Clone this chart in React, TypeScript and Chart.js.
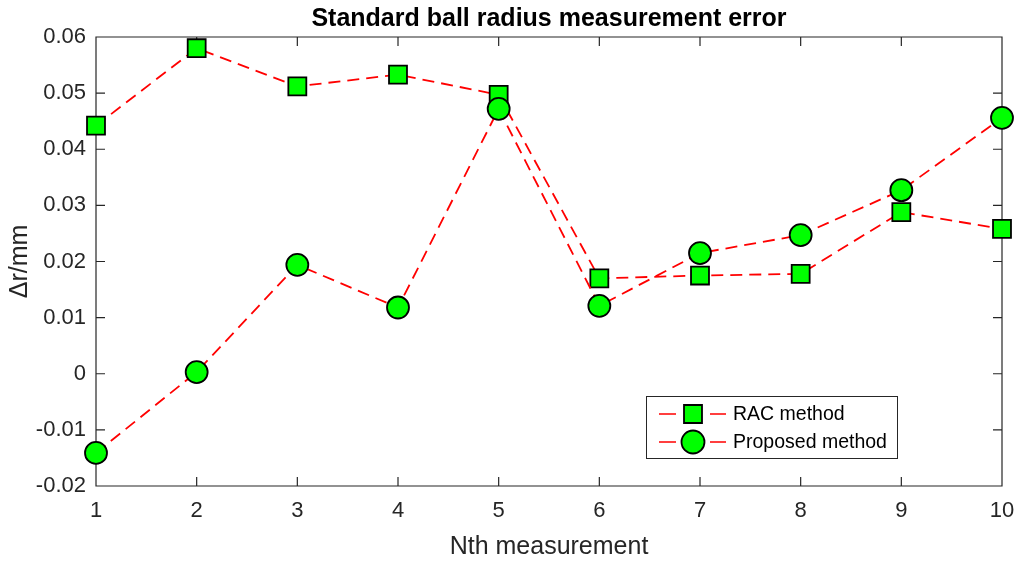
import React, { useEffect, useRef } from "react";
import { Chart, registerables } from "chart.js";

Chart.register(...registerables);

const CATEGORIES = ["1", "2", "3", "4", "5", "6", "7", "8", "9", "10"];
const RAC_VALUES = [0.0442, 0.058, 0.0512, 0.0533, 0.0497, 0.017, 0.0175, 0.0178, 0.0288, 0.0258];
const PROPOSED_VALUES = [-0.0141, 0.0003, 0.0194, 0.0118, 0.0472, 0.0121, 0.0215, 0.0247, 0.0327, 0.0456];
const Y_TICKS = [-0.02, -0.01, 0, 0.01, 0.02, 0.03, 0.04, 0.05, 0.06];
const Y_TICK_LABELS = ["-0.02", "-0.01", "0", "0.01", "0.02", "0.03", "0.04", "0.05", "0.06"];
const SERIES_LABELS = ["RAC method", "Proposed method"];
const TITLE = "Standard ball radius measurement error";
const X_TITLE = "Nth measurement";
const Y_TITLE = "\u0394r/mm";

const FONT = "'Liberation Sans', Arial, Helvetica, sans-serif";
const AXIS_COLOR = "#262626";
const MARKER_FILL = "#00ff00";
const LINE_COLOR = "#ff0000";

const boxPlugin = {
  id: "matlabBox",
  beforeDatasetsDraw(chart: any) {
    const { ctx, chartArea } = chart;
    const { left, right, top, bottom } = chartArea;
    const xs = chart.scales.x;
    const ys = chart.scales.y;
    const tl = 9;
    ctx.save();
    ctx.strokeStyle = AXIS_COLOR;
    ctx.lineWidth = 1.2;
    ctx.beginPath();
    ctx.rect(left, top, right - left, bottom - top);
    xs.ticks.forEach((_: any, i: number) => {
      const px = xs.getPixelForTick(i);
      ctx.moveTo(px, bottom);
      ctx.lineTo(px, bottom - tl);
      ctx.moveTo(px, top);
      ctx.lineTo(px, top + tl);
    });
    ys.ticks.forEach((_: any, i: number) => {
      const py = ys.getPixelForTick(i);
      ctx.moveTo(left, py);
      ctx.lineTo(left + tl, py);
      ctx.moveTo(right, py);
      ctx.lineTo(right - tl, py);
    });
    ctx.stroke();
    ctx.restore();
  },
};

const legendPlugin = {
  id: "matlabLegend",
  afterDraw(chart: any) {
    const { ctx } = chart;
    const bx = 646;
    const by = 396;
    const bw = 251;
    const bh = 62;
    ctx.save();
    ctx.fillStyle = "#ffffff";
    ctx.fillRect(bx, by, bw, bh);
    ctx.strokeStyle = "#262626";
    ctx.lineWidth = 1;
    ctx.strokeRect(bx + 0.5, by + 0.5, bw, bh);
    const rows = [by + 18, by + 46];
    chart.data.datasets.forEach((ds: any, i: number) => {
      const cy = rows[i];
      ctx.strokeStyle = LINE_COLOR;
      ctx.lineWidth = 1.6;
      ctx.setLineDash([]);
      ctx.beginPath();
      ctx.moveTo(659, cy);
      ctx.lineTo(676, cy);
      ctx.moveTo(710, cy);
      ctx.lineTo(726, cy);
      ctx.stroke();
      ctx.fillStyle = MARKER_FILL;
      ctx.strokeStyle = "#000000";
      ctx.lineWidth = 1.8;
      ctx.beginPath();
      if (ds.pointStyle === "rect") {
        ctx.rect(693 - 9, cy - 9, 18, 18);
      } else {
        ctx.arc(693, cy, 11.5, 0, Math.PI * 2);
      }
      ctx.fill();
      ctx.stroke();
      ctx.fillStyle = "#000000";
      ctx.font = `19.5px ${FONT}`;
      ctx.textBaseline = "middle";
      ctx.textAlign = "left";
      ctx.fillText(ds.label, 733, cy + 1);
    });
    ctx.restore();
  },
};

export default function App() {
  const canvasRef = useRef<HTMLCanvasElement | null>(null);

  useEffect(() => {
    document.body.style.margin = "0";
    const canvas = canvasRef.current;
    if (!canvas) return;
    const chart = new Chart(canvas, {
      type: "line",
      data: {
        labels: CATEGORIES,
        datasets: [
          {
            label: SERIES_LABELS[0],
            data: RAC_VALUES,
            borderColor: LINE_COLOR,
            borderWidth: 1.8,
            borderDash: [12, 7],
            pointStyle: "rect",
            pointRadius: 12.7,
            pointHoverRadius: 12.7,
            pointBackgroundColor: MARKER_FILL,
            pointBorderColor: "#000000",
            pointBorderWidth: 1.8,
            tension: 0,
            fill: false,
            clip: false as any,
            order: 2,
          },
          {
            label: SERIES_LABELS[1],
            data: PROPOSED_VALUES,
            borderColor: LINE_COLOR,
            borderWidth: 1.8,
            borderDash: [12, 7],
            pointStyle: "circle",
            pointRadius: 11,
            pointHoverRadius: 11,
            pointBackgroundColor: MARKER_FILL,
            pointBorderColor: "#000000",
            pointBorderWidth: 1.8,
            tension: 0,
            fill: false,
            clip: false as any,
            order: 1,
          },
        ],
      },
      options: {
        animation: false,
        responsive: false,
        maintainAspectRatio: false,
        events: [],
        layout: { padding: { left: 0, right: 22, top: 0, bottom: 0 } },
        plugins: {
          legend: { display: false },
          tooltip: { enabled: false },
          title: {
            display: true,
            text: TITLE,
            fullSize: false,
            color: "#000000",
            font: { family: FONT, size: 25, weight: "bold", lineHeight: 1.2 },
            padding: { top: 4.4, bottom: 2.6 },
          },
        },
        scales: {
          x: {
            type: "category",
            offset: false,
            grid: { display: false, drawTicks: false },
            border: { display: false },
            ticks: {
              color: AXIS_COLOR,
              font: { family: FONT, size: 22 },
              padding: 12,
              maxRotation: 0,
              autoSkip: false,
            },
            title: {
              display: true,
              text: X_TITLE,
              color: AXIS_COLOR,
              font: { family: FONT, size: 25, lineHeight: 1.0 },
              padding: { top: 0, bottom: 1 },
            },
            afterFit(scale: any) {
              scale.height = 75;
              scale.paddingLeft = 0;
              scale.paddingRight = 0;
            },
          },
          y: {
            type: "linear",
            min: Y_TICKS[0],
            max: Y_TICKS[Y_TICKS.length - 1],
            grid: { display: false, drawTicks: false },
            border: { display: false },
            afterBuildTicks(scale: any) {
              scale.ticks = Y_TICKS.map((v) => ({ value: v }));
            },
            ticks: {
              color: AXIS_COLOR,
              font: { family: FONT, size: 22 },
              padding: 10,
              callback(value: any) {
                const idx = Y_TICKS.findIndex((t) => Math.abs(t - Number(value)) < 1e-9);
                return idx >= 0 ? Y_TICK_LABELS[idx] : "";
              },
            },
            title: {
              display: true,
              text: Y_TITLE,
              color: AXIS_COLOR,
              font: { family: FONT, size: 25, lineHeight: 1.2 },
              padding: { top: 5.4, bottom: 0 },
            },
            afterFit(scale: any) {
              scale.width = 96;
              scale.paddingTop = 0;
              scale.paddingBottom = 0;
            },
          },
        },
      },
      plugins: [boxPlugin, legendPlugin],
    });
    return () => chart.destroy();
  }, []);

  return (
    <div style={{ position: "fixed", left: 0, top: 0, width: 1024, height: 561, background: "#ffffff" }}>
      <canvas ref={canvasRef} width={1024} height={561} style={{ width: 1024, height: 561 }} />
    </div>
  );
}
